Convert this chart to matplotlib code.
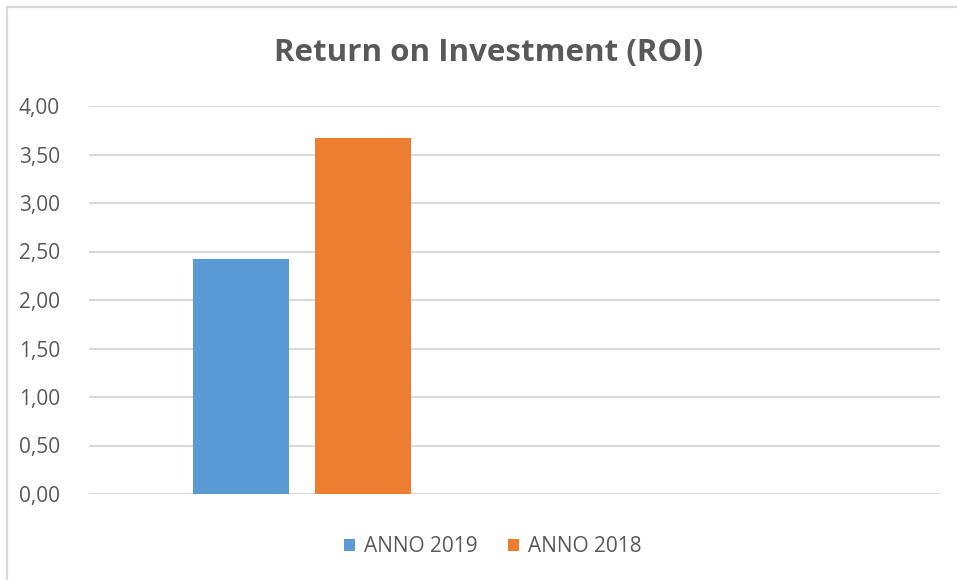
import matplotlib
matplotlib.use("Agg")
import matplotlib.pyplot as plt
from matplotlib.lines import Line2D
from matplotlib.patches import Patch
import numpy as np

# Data
categories = ["1", "2"]
series_names = ["ANNO 2019", "ANNO 2018"]
roi_2019 = [2.42, np.nan]
roi_2018 = [3.67, np.nan]
y_ticks = [0.0, 0.5, 1.0, 1.5, 2.0, 2.5, 3.0, 3.5, 4.0]
title = "Return on Investment (ROI)"

colors = ["#5B9BD5", "#ED7D31"]
text_color = "#595959"
grid_color = "#D9D9D9"

W, H = 957, 580
fig = plt.figure(figsize=(W / 100, H / 100), dpi=100)
fig.patch.set_facecolor("white")

# Chart frame (left and top border visible)
fig.add_artist(Line2D([6.5 / W, 6.5 / W], [0, 1 - 7 / H], transform=fig.transFigure,
                      color=grid_color, lw=1.6))
fig.add_artist(Line2D([6.5 / W, 1], [1 - 7 / H, 1 - 7 / H], transform=fig.transFigure,
                      color=grid_color, lw=1.6))

left, right, top, bottom = 89, 940, 106, 494
ax = fig.add_axes([left / W, 1 - bottom / H, (right - left) / W, (bottom - top) / H])

x = np.arange(len(categories))
bw = 0.2256
off = 0.1433
ax.bar(x - off, roi_2019, width=bw, color=colors[0], zorder=3)
ax.bar(x + off, roi_2018, width=bw, color=colors[1], zorder=3)

ax.set_xlim(-0.5, len(categories) - 0.5)
ax.set_ylim(0, 4.0)
ax.set_yticks(y_ticks)
ax.set_yticklabels([f"{v:.2f}".replace(".", ",") for v in y_ticks],
                   fontsize=15, color=text_color, fontfamily="Open Sans")
ax.set_xticks([])
ax.tick_params(axis="y", length=0, pad=21)
ax.yaxis.grid(True, color=grid_color, lw=1.5, zorder=0)
for s in ax.spines.values():
    s.set_visible(False)
ax.set_facecolor("none")

fig.text(489 / W, 1 - 53 / H, title, ha="center", va="center", fontsize=22.5,
         fontweight="bold", color=text_color, fontfamily="Open Sans")

handles = [Patch(facecolor=c, edgecolor="none") for c in colors]
leg = fig.legend(handles, series_names, loc="center", bbox_to_anchor=(493 / W, 1 - 547 / H),
                 ncol=2, frameon=False, handlelength=0.5, handleheight=0.5,
                 handletextpad=0.45, columnspacing=1.45,
                 prop={"family": "Open Sans", "size": 15})
for t in leg.get_texts():
    t.set_color(text_color)

fig.savefig("out.png", dpi=100, facecolor="white")
